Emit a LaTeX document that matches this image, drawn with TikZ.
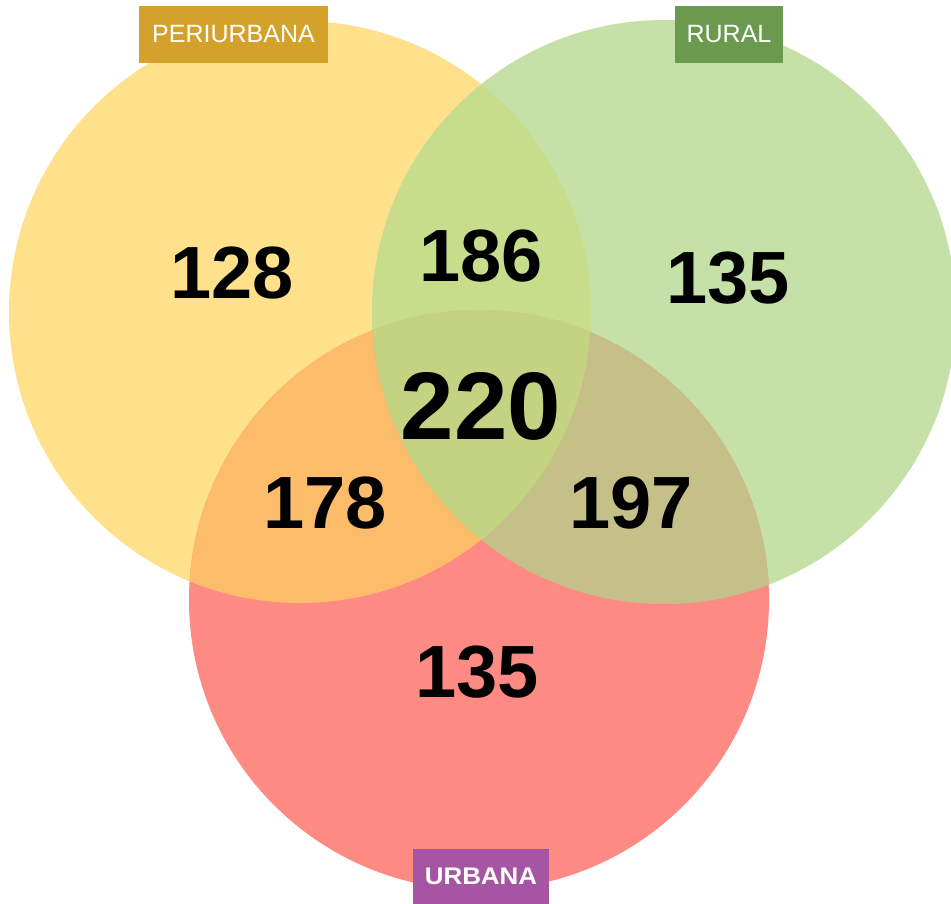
\documentclass[tikz,border=0pt]{standalone}
\usepackage{fontspec}
\setmainfont{Liberation Sans}
\definecolor{cY}{HTML}{FEE18A}
\definecolor{cG}{HTML}{C5E1A7}
\definecolor{cR}{HTML}{FE8A84}
\definecolor{cYG}{HTML}{C8DD8C}
\definecolor{cYR}{HTML}{FDBC6A}
\definecolor{cGR}{HTML}{C5BF88}
\definecolor{cYGR}{HTML}{C4D381}
\definecolor{bY}{HTML}{D4A22A}
\definecolor{bG}{HTML}{6B9A4E}
\definecolor{bR}{HTML}{A655A3}
\tikzset{
  num/.style={inner sep=0pt, font=\bfseries\fontsize{74}{74}\selectfont, text=black},
  bignum/.style={inner sep=0pt, font=\bfseries\fontsize{96}{96}\selectfont, text=black},
  tag/.style={inner sep=0pt, text=white, minimum height=57pt},
}
\begin{document}
\begin{tikzpicture}[x=1pt,y=-1pt]
\useasboundingbox (0,0) rectangle (951,904);
\coordinate (Y) at (300,312);
\coordinate (G) at (664,312);
\coordinate (R) at (479,600);
\def\rY{291}\def\rG{292}\def\rR{290}
\fill[cY] (Y) circle (\rY);
\fill[cG] (G) circle (\rG);
\fill[cR] (R) circle (\rR);
\begin{scope}\clip (Y) circle (\rY); \fill[cYG] (G) circle (\rG);\end{scope}
\begin{scope}\clip (Y) circle (\rY); \fill[cYR] (R) circle (\rR);\end{scope}
\begin{scope}\clip (G) circle (\rG); \fill[cGR] (R) circle (\rR);\end{scope}
\begin{scope}\clip (Y) circle (\rY); \clip (G) circle (\rG); \fill[cYGR] (R) circle (\rR);\end{scope}

\node[num] (n128) at (232,273) {128};
\node[num] (n186) at (481,256) {186};
\node[num] (n135a) at (728,278) {135};
\node[bignum] (n220) at (481,406) {220};
\node[num] (n178) at (325,503) {178};
\node[num] (n197) at (631,503) {197};
\node[num] (n135b) at (477,672) {135};

\node[tag, fill=bY, minimum width=189pt, font=\fontsize{25}{25}\selectfont] (tP) at (233.5,34.5) {PERIURBANA};
\node[tag, fill=bG, minimum width=108pt, font=\fontsize{25}{25}\selectfont] (tRu) at (729,34.5) {RURAL};
\node[tag, fill=bR, minimum width=136pt, minimum height=55pt, font=\bfseries\fontsize{24}{24}\selectfont] (tU) at (481,876.5) {\scalebox{1.08}[1]{URBANA}};
\end{tikzpicture}
\end{document}
